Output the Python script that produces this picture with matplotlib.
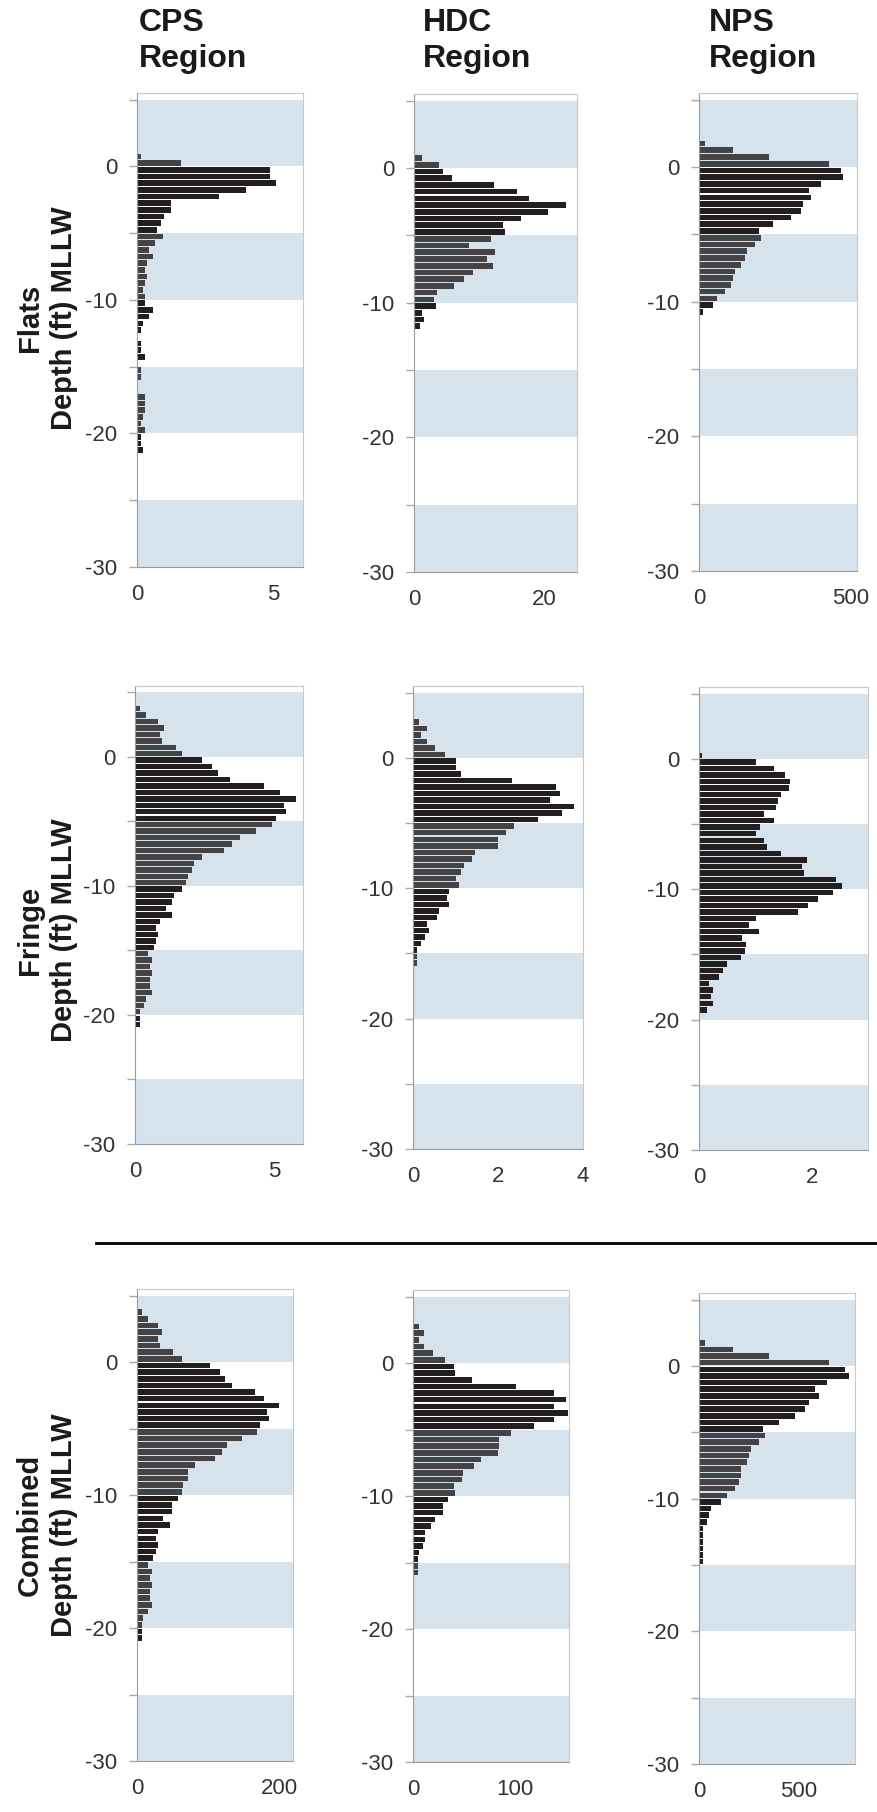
import numpy as np
import matplotlib.pyplot as plt
from matplotlib.lines import Line2D

# bar lengths per 0.5 ft depth bin, listed from the shallowest bin downwards
# (first value = bin centred at *_top)
cps_flats_top = 0.75
cps_flats = [0.15, 1.6, 4.9, 4.9, 5.1, 4.0, 3.0, 1.25, 1.25, 1.0, 0.9, 0.75, 0.95, 0.65, 0.45,
             0.6, 0.37, 0.3, 0.37, 0.3, 0.22, 0.3, 0.3, 0.6, 0.45, 0.22, 0.15, 0, 0.15, 0.15,
             0.3, 0, 0.15, 0.15, 0, 0, 0.3, 0.3, 0.3, 0.22, 0.15, 0.3, 0.15, 0.15, 0.22]
hdc_flats_top = 0.75
hdc_flats = [1.2, 3.9, 4.5, 5.8, 12.2, 15.8, 17.6, 23.3, 20.6, 16.4, 13.6, 13.9, 11.8, 8.5, 12.4,
             11.2, 12.1, 9.1, 7.6, 6.1, 3.6, 3.0, 3.3, 1.2, 1.5, 0.9]
nps_flats_top = 1.75
nps_flats = [19, 111, 230, 428, 467, 474, 401, 362, 368, 342, 335, 302, 243, 197, 203, 184, 157,
             151, 137, 118, 111, 104, 85, 58, 45, 12]

cps_fringe_top = 3.75
cps_fringe = [0.17, 0.38, 0.82, 1.03, 0.89, 0.96, 1.47, 1.68, 2.40, 2.76, 2.98, 3.41, 4.64, 5.22,
              5.79, 5.36, 5.43, 5.07, 4.93, 4.35, 3.77, 3.49, 3.20, 2.40, 2.12, 2.04, 1.90, 1.83,
              1.68, 1.39, 1.32, 1.11, 1.32, 0.89, 0.75, 0.82, 0.75, 0.67, 0.46, 0.60, 0.53, 0.60,
              0.53, 0.53, 0.60, 0.38, 0.31, 0.17, 0.17, 0.17]
hdc_fringe_top = 2.75
hdc_fringe = [0.14, 0.33, 0.19, 0.33, 0.52, 0.76, 1.0, 1.0, 1.14, 2.32, 3.37, 3.46, 3.23, 3.79,
              3.51, 2.94, 2.37, 2.18, 1.99, 1.99, 1.47, 1.38, 1.19, 1.14, 1.0, 1.09, 0.85, 0.81,
              0.85, 0.62, 0.57, 0.33, 0.38, 0.28, 0.19, 0.09, 0.09, 0.09]
nps_fringe_top = 0.25
nps_fringe = [0.06, 1.02, 1.34, 1.52, 1.62, 1.59, 1.45, 1.41, 1.37, 1.16, 1.34, 1.09, 1.02, 1.16,
              1.20, 1.45, 1.91, 1.83, 1.87, 2.44, 2.54, 2.37, 2.12, 1.94, 1.76, 1.02, 0.88, 1.06,
              0.77, 0.84, 0.81, 0.74, 0.49, 0.42, 0.35, 0.17, 0.24, 0.21, 0.24, 0.14]

cps_comb_top = 3.75
cps_comb = [6.5, 15, 29, 35, 29, 32, 51, 63, 102, 116, 124, 133, 166, 178, 200, 183, 186, 172,
            169, 147, 127, 119, 110, 82, 71, 71, 65, 63, 57, 49, 49, 37, 46, 29, 26, 29, 26, 23,
            15, 21, 18, 21, 18, 18, 21, 15, 9, 6.5, 6.5, 6.5]
hdc_comb_top = 2.75
hdc_comb = [5.9, 10.5, 5.9, 10.5, 19.6, 31.4, 39.9, 41.2, 57.5, 100.7, 137.9, 149.7, 137.9, 151.6,
            137.9, 118.3, 96.1, 84.3, 84.3, 83, 66.7, 59.5, 49, 47.7, 39.9, 41.2, 34, 29.4, 29.4,
            21.6, 17.6, 11.8, 11.8, 9.8, 5.9, 4.6, 4.6, 4.6]
nps_comb_top = 1.75
nps_comb = [32, 172, 353, 654, 734, 754, 644, 584, 604, 554, 533, 483, 403, 323, 333, 303, 263,
            253, 242, 212, 212, 202, 182, 142, 112, 62, 52, 42, 22, 22, 22, 22, 22, 22]

regions = ['CPS', 'HDC', 'NPS']
rows = ['Flats', 'Fringe', 'Combined']

xmax = [[6.1, 25, 520], [6.05, 4.0, 3.0], [219, 153, 786]]
xticks = [[[0, 5], [0, 20], [0, 500]],
          [[0, 5], [0, 2, 4], [0, 2]],
          [[0, 200], [0, 100], [0, 500]]]

data = [[(cps_flats_top, cps_flats), (hdc_flats_top, hdc_flats), (nps_flats_top, nps_flats)],
        [(cps_fringe_top, cps_fringe), (hdc_fringe_top, hdc_fringe), (nps_fringe_top, nps_fringe)],
        [(cps_comb_top, cps_comb), (hdc_comb_top, hdc_comb), (nps_comb_top, nps_comb)]]

# shaded depth bands (ft)
bands = [(0, 5), (-10, -5), (-20, -15), (-30, -25)]

# panel boxes in pixels: left, right, top, bottom
W, H = 877, 1812
boxes = [[(137, 303, 93, 567), (414, 577, 94, 572), (699, 857, 93, 571)],
         [(135, 303, 686, 1144), (413, 583, 686, 1149), (699, 868, 687, 1150)],
         [(137, 293, 1289, 1761), (413, 569, 1290, 1762), (699, 855, 1293, 1764)]]

band_col = '#d7e3ec'
black = '#231f20'
grey = '#434244'
narrow = ['Liberation Sans Narrow', 'Liberation Sans', 'DejaVu Sans']

fig = plt.figure(figsize=(W / 100, H / 100), dpi=100)

for r in range(3):
    for c in range(3):
        l, rt, t, b = boxes[r][c]
        ax = fig.add_axes([l / W, 1 - b / H, (rt - l) / W, (b - t) / H])
        top, vals = data[r][c]
        depths = top - 0.5 * np.arange(len(vals))
        for lo, hi in bands:
            ax.axhspan(lo, hi, color=band_col, lw=0, zorder=0)
        cols = []
        for d in depths:
            inband = any(lo < d < hi for lo, hi in bands)
            # NPS fringe bars are all drawn black
            cols.append(grey if inband and not (r == 1 and c == 2) else black)
        ax.barh(depths, vals, height=0.42, color=cols, lw=0, zorder=2)
        ax.set_ylim(-30, 5.5)
        ax.set_xlim(0, xmax[r][c])
        ax.set_yticks([5, 0, -5, -10, -15, -20, -25, -30])
        ax.set_yticklabels(['', '0', '', '-10', '', '-20', '', '-30'])
        ax.set_xticks(xticks[r][c])
        ax.set_xticklabels([str(v) for v in xticks[r][c]])
        ax.tick_params(axis='y', length=6, width=1, color='#aaaaaa', pad=8,
                       labelsize=16, labelcolor='#333333')
        ax.tick_params(axis='x', length=0, pad=12, labelsize=16, labelcolor='#333333')
        for lab in ax.get_xticklabels() + ax.get_yticklabels():
            lab.set_family(narrow)
        for s in ['left', 'bottom']:
            ax.spines[s].set_color('#9a9a9a')
        for s in ['top', 'right']:
            ax.spines[s].set_color('#c8c8c8')

# column headers
head_x = [139, 423, 709]
for name, x in zip(regions, head_x):
    fig.text(x / W, 1 - 8 / H, name + '\nRegion', fontsize=23, fontweight='bold',
             family=narrow, va='top', ha='left', linespacing=1.25, color='#1a1a1a')

# row labels
row_y = [318, 930, 1525]
for name, y in zip(rows, row_y):
    fig.text(47 / W, 1 - y / H, name + '\nDepth (ft) MLLW', rotation=90, fontsize=21,
             fontweight='bold', family=['Liberation Sans', 'DejaVu Sans'],
             ha='center', va='center', multialignment='center',
             linespacing=1.3, color='#1a1a1a')

# divider between single-habitat rows and combined row
fig.add_artist(Line2D([96 / W, 1], [1 - 1243 / H, 1 - 1243 / H], transform=fig.transFigure,
                      color='black', lw=2))

fig.savefig('out.png', dpi=100)
